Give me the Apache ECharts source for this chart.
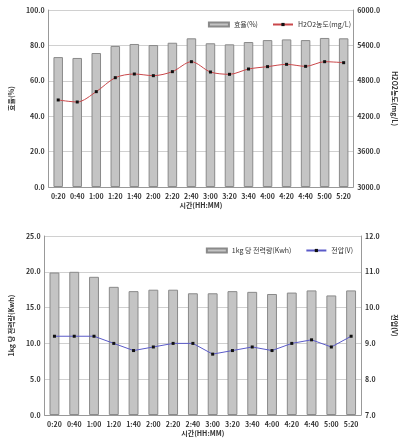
<!DOCTYPE html>
<html><head><meta charset="utf-8">
<script src="https://cdn.jsdelivr.net/npm/echarts@6/dist/echarts.min.js"></script>
<style>html,body{margin:0;padding:0;background:#fff}#c{width:406px;height:445px}</style>
</head><body><div id="c"></div>
<script>
const categories = ['0:20','0:40','1:00','1:20','1:40','2:00','2:20','2:40','3:00','3:20','3:40','4:00','4:20','4:40','5:00','5:20'];
const efficiency = [73.4,72.9,75.7,79.7,80.8,80.2,81.5,84.0,81.2,80.6,81.9,83.0,83.4,83.0,84.2,84.0];
const h2o2 = [4475,4441,4616,4853,4915,4887,4955,5124,4949,4910,5000,5040,5079,5045,5124,5107];
const power = [19.9,20.0,19.3,17.9,17.3,17.5,17.5,17.0,17.0,17.3,17.2,16.9,17.1,17.4,16.7,17.4];
const voltage = [9.2,9.2,9.2,9.0,8.8,8.9,9.0,9.0,8.7,8.8,8.9,8.8,9.0,9.1,8.9,9.2];

const FONT = 'Noto Sans CJK KR';
const lbl = {fontSize:7, fontWeight:'bold', color:'#333', fontFamily:FONT};
const axisLine = {show:true, lineStyle:{color:'#999', width:1}};
const splitLine = {show:true, lineStyle:{color:'#d0d0d0', width:1}};
const nameStyle = {fontSize:7, fontWeight:'bold', color:'#333', fontFamily:FONT};

function xAx(gi){
  return {type:'category', gridIndex:gi, data:categories, axisLine:axisLine, axisTick:{show:false},
    axisLabel:Object.assign({margin:6, interval:0}, lbl),
    name:'시간(HH:MM)', nameLocation:'middle', nameGap:15, nameTextStyle:nameStyle};
}
function yAx(gi, pos, min, max, interval, name, rot, gap, split){
  return {type:'value', gridIndex:gi, position:pos, min:min, max:max, interval:interval,
    axisLine:axisLine, axisTick:{show:false}, splitLine: split ? splitLine : {show:false},
    axisLabel:Object.assign({margin:4, formatter:v=>v.toFixed(1)}, lbl),
    name:name, nameLocation:'middle', nameRotate:rot, nameGap:gap, nameTextStyle:nameStyle};
}
const barStyle = {color:'#c4c4c4', borderColor:'#8a8a8a', borderWidth:1};
const legText = {fontSize:7, color:'#333', fontFamily:FONT};

const chart = echarts.init(document.getElementById('c'));
chart.setOption({
  animation:false,
  textStyle:{fontFamily:FONT},
  grid:[
    {left:38, right:43, top:10, height:177},
    {left:38, right:42, top:236, height:179}
  ],
  legend:[
    {top:16, right:50, itemWidth:20, itemHeight:4, itemGap:14, textStyle:legText,
     data:[{name:'효율(%)', icon:'rect'}, {name:'H2O2농도(mg/L)'}]},
    {top:242, right:48, itemWidth:20, itemHeight:4, itemGap:14, textStyle:legText,
     data:[{name:'1kg 당 전력량(Kwh)', icon:'rect'}, {name:'전압(V)'}]}
  ],
  xAxis:[xAx(0), xAx(1)],
  yAxis:[
    yAx(0,'left',0,100,20,'효율(%)',90,27,true),
    yAx(0,'right',3000,6000,600,'H2O2농도(mg/L)',-90,31,false),
    yAx(1,'left',0,25,5,'1kg 당 전력량(Kwh)',90,27,true),
    yAx(1,'right',7,12,1,'전압(V)',-90,30,false)
  ],
  series:[
    {name:'효율(%)', type:'bar', xAxisIndex:0, yAxisIndex:0, data:efficiency, barWidth:'50%', itemStyle:barStyle},
    {name:'H2O2농도(mg/L)', type:'line', xAxisIndex:0, yAxisIndex:1, data:h2o2, smooth:0.3,
     symbol:'rect', symbolSize:3, lineStyle:{color:'#c9474a', width:1}, itemStyle:{color:'#111'}},
    {name:'1kg 당 전력량(Kwh)', type:'bar', xAxisIndex:1, yAxisIndex:2, data:power, barWidth:'50%', itemStyle:barStyle},
    {name:'전압(V)', type:'line', xAxisIndex:1, yAxisIndex:3, data:voltage,
     symbol:'rect', symbolSize:3, lineStyle:{color:'#5a5ac8', width:1}, itemStyle:{color:'#111'}}
  ]
});
</script></body></html>
